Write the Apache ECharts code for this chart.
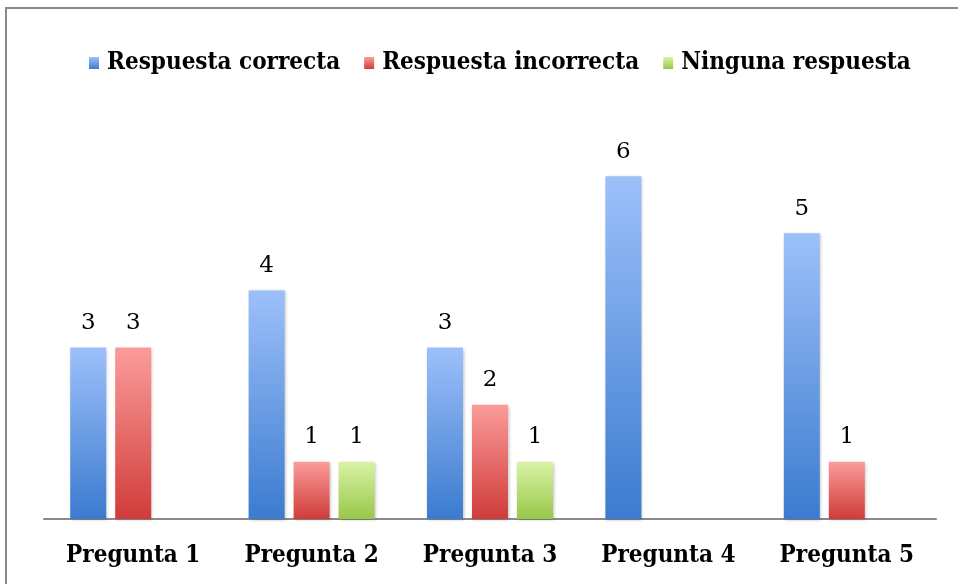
<!DOCTYPE html>
<html><head><meta charset="utf-8">
<script src="https://cdn.jsdelivr.net/npm/echarts@6/dist/echarts.min.js"></script>
<style>html,body{margin:0;padding:0;background:#fff}#c{width:958px;height:584px}</style>
</head><body><div id="c"></div>
<script>
const categories = ['Pregunta 1','Pregunta 2','Pregunta 3','Pregunta 4','Pregunta 5'];
const seriesNames = ['Respuesta correcta','Respuesta incorrecta','Ninguna respuesta'];
const correcta = [3,4,3,6,5];
const incorrecta = [3,1,2,null,1];
const ninguna = [null,1,1,null,null];

const grads = [['#9dc0fa','#3b7bcf'],['#fb9c9a','#cf3c3a'],['#d9f2a6','#98c74a']];
function grad(i){return new echarts.graphic.LinearGradient(0,0,0,1,[{offset:0,color:grads[i][0]},{offset:1,color:grads[i][1]}]);}
const font = '"DejaVu Serif Condensed","DejaVu Serif",serif';
const chart = echarts.init(document.getElementById('c'));
const data = [correcta, incorrecta, ninguna];
chart.setOption({
  backgroundColor:'#ffffff',
  animation:false,
  graphic:[{type:'rect',shape:{x:6,y:8,width:1000,height:700},style:{fill:'none',stroke:'#8a8a8a',lineWidth:2},silent:true}],
  legend:{top:46,left:84,itemWidth:10,itemHeight:12,itemGap:24,icon:'rect',
    textStyle:{fontFamily:font,fontWeight:'bold',fontSize:24,color:'#000',padding:[0,0,0,3]},data:seriesNames},
  grid:{left:44,right:22,top:119,bottom:65},
  xAxis:{type:'category',data:categories,
    axisLine:{lineStyle:{color:'#8a8a8a',width:2}},axisTick:{show:false},
    axisLabel:{fontFamily:font,fontWeight:'bold',fontSize:24,color:'#000',margin:25}},
  yAxis:{type:'value',min:0,max:7,interval:1,show:false,splitLine:{show:false}},
  series:data.map((d,i)=>({name:seriesNames[i],type:'bar',data:d,barWidth:36,barGap:'25%',
    itemStyle:{color:grad(i),shadowColor:'rgba(0,0,0,0.25)',shadowBlur:3,shadowOffsetX:1,shadowOffsetY:1},
    label:{show:true,position:'top',distance:13,fontFamily:'"DejaVu Serif",serif',fontSize:23,color:'#000'}}))
});
</script></body></html>
